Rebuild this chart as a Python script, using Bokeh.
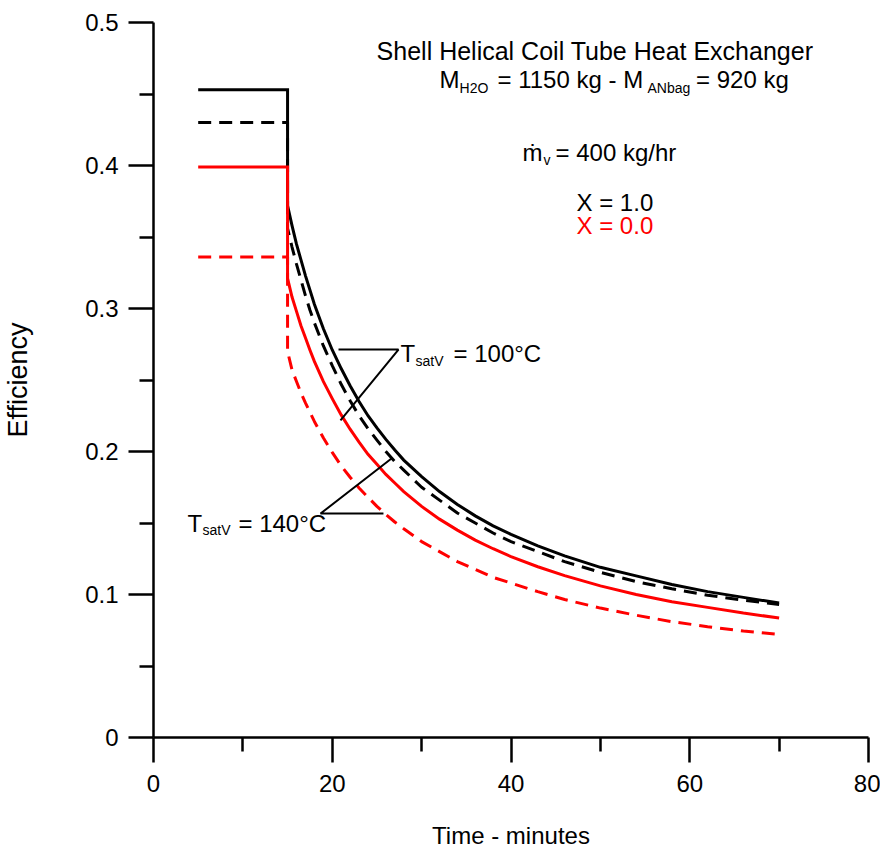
from bokeh.plotting import figure
from bokeh.models import Range1d, FixedTicker
from bokeh.core.properties import value
from bokeh.embed import file_html
from bokeh.resources import INLINE

# ---- data ----
time_min = [15, 15.5, 16, 16.5, 17, 17.5, 18, 19, 20, 21, 22, 23, 24, 25, 26, 27, 28,
            30, 32, 34, 36, 38, 40, 43, 46, 50, 54, 58, 62, 66, 70]
step_start = 5
step_end = 15

# X = 1.0, TsatV = 100 C (black solid)
x10_t100_step = 0.453
x10_t100 = [0.372, 0.358, 0.345, 0.334, 0.323, 0.313, 0.303, 0.286, 0.271, 0.258, 0.246,
            0.235, 0.225, 0.2165, 0.2085, 0.201, 0.194, 0.1825, 0.172, 0.163, 0.155, 0.148,
            0.142, 0.134, 0.127, 0.119, 0.113, 0.107, 0.102, 0.098, 0.094]
# X = 1.0, TsatV = 140 C (black dashed)
x10_t140_step = 0.430
x10_t140 = [0.356, 0.343, 0.331, 0.320, 0.309, 0.299, 0.290, 0.274, 0.260, 0.247, 0.2355,
            0.225, 0.216, 0.208, 0.200, 0.193, 0.187, 0.175, 0.166, 0.157, 0.150, 0.143,
            0.137, 0.130, 0.123, 0.1155, 0.109, 0.104, 0.0995, 0.096, 0.093]
# X = 0.0, TsatV = 100 C (red solid)
x00_t100_step = 0.399
x00_t100 = [0.321, 0.308, 0.298, 0.288, 0.2795, 0.271, 0.263, 0.249, 0.237, 0.2256, 0.2156,
            0.2065, 0.198, 0.191, 0.184, 0.178, 0.172, 0.1616, 0.1527, 0.145, 0.138, 0.132,
            0.1265, 0.1194, 0.1132, 0.106, 0.100, 0.095, 0.091, 0.087, 0.0836]
# X = 0.0, TsatV = 140 C (red dashed)
x00_t140_step = 0.336
x00_t140 = [0.270, 0.257, 0.249, 0.241, 0.234, 0.2275, 0.221, 0.2096, 0.1994, 0.190, 0.182,
            0.1745, 0.168, 0.1616, 0.156, 0.1507, 0.146, 0.137, 0.130, 0.123, 0.1175, 0.112,
            0.108, 0.102, 0.0965, 0.0905, 0.0855, 0.081, 0.0775, 0.0745, 0.072]

x_ticks = [0, 20, 40, 60, 80]
x_minor = [10, 30, 50, 70]
y_ticks = [0.0, 0.1, 0.2, 0.3, 0.4, 0.5]
y_tick_labels = ["0", "0.1", "0.2", "0.3", "0.4", "0.5"]
y_minor = [0.05, 0.15, 0.25, 0.35, 0.45]

FONT = "Liberation Sans"

p = figure(width=880, height=852, output_backend="svg", toolbar_location=None,
           x_range=Range1d(0, 80), y_range=Range1d(0, 0.5),
           min_border_left=153, min_border_right=12, min_border_top=22,
           min_border_bottom=115)
p.outline_line_color = None
p.xgrid.visible = False
p.ygrid.visible = False
p.background_fill_color = "white"
p.border_fill_color = "white"

for ax in (p.xaxis[0], p.yaxis[0]):
    ax.axis_line_width = 2.5
    ax.axis_line_color = "black"
    ax.major_tick_line_width = 2.5
    ax.minor_tick_line_width = 2.5
    ax.major_tick_in = 0
    ax.minor_tick_in = 0
    ax.major_tick_out = 25
    ax.minor_tick_out = 14
    ax.major_label_text_font = FONT
    ax.major_label_text_font_size = "24px"
    ax.major_label_text_color = "black"
    ax.axis_label_text_font = FONT
    ax.axis_label_text_font_style = "normal"
    ax.axis_label_text_color = "black"

p.xaxis.ticker = FixedTicker(ticks=x_ticks, minor_ticks=x_minor)
p.yaxis.ticker = FixedTicker(ticks=y_ticks, minor_ticks=y_minor)
p.yaxis.major_label_overrides = dict(zip(y_ticks, y_tick_labels))
p.xaxis.major_label_standoff = 12
p.yaxis.major_label_standoff = 10
p.xaxis.axis_label = "Time - minutes"
p.yaxis.axis_label = "Efficiency"
p.xaxis.axis_label_text_font_size = "24px"
p.yaxis.axis_label_text_font_size = "27px"
p.xaxis.axis_label_standoff = 27
p.yaxis.axis_label_standoff = 49


def series(step, curve):
    return [step_start, step_end] + time_min, [step, step] + curve


lw = 3
xs, ys = series(x10_t100_step, x10_t100)
p.line(xs, ys, line_color="black", line_width=lw, line_join="miter")
xs, ys = series(x10_t140_step, x10_t140)
p.line(xs, ys, line_color="black", line_width=lw, line_dash="13 8")
xs, ys = series(x00_t100_step, x00_t100)
p.line(xs, ys, line_color="red", line_width=lw, line_join="miter")
xs, ys = series(x00_t140_step, x00_t140)
p.line(xs, ys, line_color="red", line_width=lw, line_dash="13 8")

# annotation leader lines
p.line([20.70, 27.41, 20.92], [0.2713, 0.2713, 0.2217], line_color="black", line_width=2)
p.line([26.63, 18.69, 25.73], [0.1951, 0.1566, 0.1566], line_color="black", line_width=2)


def txt(x, y, s, size="24px", color="black", align="left"):
    p.text(x=[x], y=[y], text=[s], text_font=value(FONT), text_font_size=size,
           text_color=color, text_align=align, text_baseline="alphabetic")


SUB = "14px"
txt(49.40, 0.4804, "Shell Helical Coil Tube Heat Exchanger", size="25px", align="center")
txt(32.00, 0.4601, "M")
txt(34.24, 0.4545, "H2O", size=SUB)
txt(38.49, 0.4601, "= 1150 kg - M")
txt(55.27, 0.4545, "ANbag", size=SUB)
txt(60.70, 0.4601, "= 920 kg")

txt(41.29, 0.4091, "\u1e41")
txt(43.64, 0.4035, "v", size=SUB)
txt(44.98, 0.4091, "= 400 kg/hr")

txt(47.33, 0.3741, "X = 1.0")
txt(47.33, 0.3580, "X = 0.0", color="red")

txt(27.64, 0.2685, "T")
txt(29.32, 0.2636, "satV", size=SUB)
txt(33.57, 0.2685, "= 100\u00b0C")

txt(3.80, 0.1497, "T")
txt(5.48, 0.1448, "satV", size=SUB)
txt(9.51, 0.1497, "= 140\u00b0C")

open("out.html", "w").write(file_html(p, INLINE))
